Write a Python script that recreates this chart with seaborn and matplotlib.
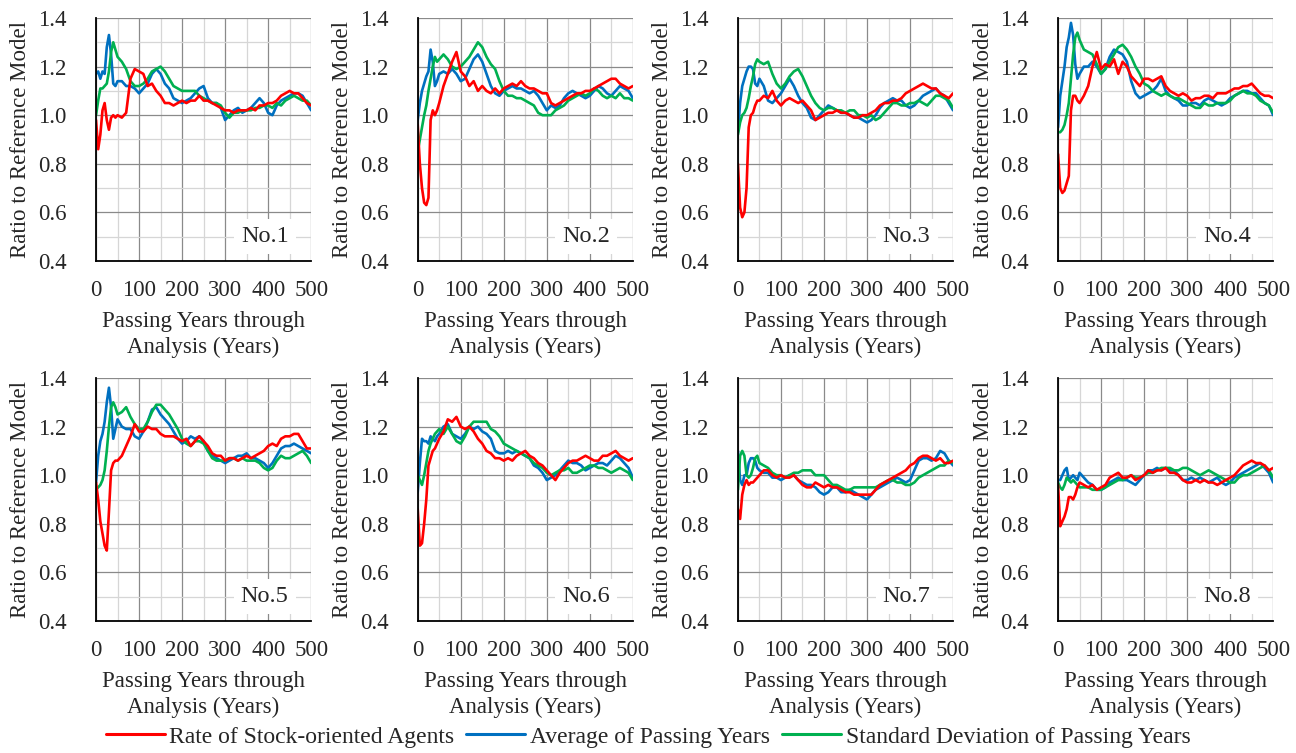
import matplotlib
matplotlib.use("Agg")
import matplotlib.pyplot as plt
from matplotlib.ticker import MultipleLocator, FormatStrFormatter
from matplotlib.lines import Line2D
import numpy as np
import pandas as pd
import seaborn as sns

# x positions (years) - denser at the start where things move fast
years = [0, 5, 10, 15, 20, 25, 30, 35, 40, 45, 50,
         60, 70, 80, 90, 100, 110, 120, 130, 140, 150,
         160, 170, 180, 190, 200, 210, 220, 230, 240, 250,
         260, 270, 280, 290, 300, 310, 320, 330, 340, 350,
         360, 370, 380, 390, 400, 410, 420, 430, 440, 450,
         460, 470, 480, 490, 500]

panel_names = ["No.1", "No.2", "No.3", "No.4", "No.5", "No.6", "No.7", "No.8"]

# Rate of Stock-oriented Agents (red)
rate_no1 = [0.98, 0.86, 0.92, 1.02, 1.05, 0.98, 0.94, 0.99, 1.00, 0.99, 1.00,
            0.99, 1.01, 1.15, 1.19, 1.18, 1.17, 1.12, 1.13, 1.10, 1.08,
            1.05, 1.05, 1.04, 1.05, 1.06, 1.05, 1.06, 1.06, 1.08, 1.06,
            1.06, 1.05, 1.04, 1.03, 1.02, 1.02, 1.01, 1.02, 1.02, 1.02,
            1.03, 1.02, 1.04, 1.04, 1.05, 1.05, 1.06, 1.08, 1.09, 1.10,
            1.09, 1.09, 1.07, 1.05, 1.04]
rate_no2 = [0.96, 0.80, 0.70, 0.64, 0.63, 0.66, 0.98, 1.02, 1.00, 1.02, 1.05,
            1.12, 1.17, 1.22, 1.26, 1.18, 1.16, 1.12, 1.14, 1.10, 1.12,
            1.10, 1.09, 1.11, 1.09, 1.11, 1.12, 1.13, 1.12, 1.14, 1.12,
            1.11, 1.11, 1.10, 1.09, 1.09, 1.05, 1.04, 1.05, 1.06, 1.07,
            1.08, 1.09, 1.09, 1.10, 1.10, 1.11, 1.12, 1.13, 1.14, 1.15,
            1.15, 1.13, 1.12, 1.11, 1.12]
rate_no3 = [0.80, 0.62, 0.58, 0.60, 0.70, 0.95, 1.00, 1.01, 1.04, 1.06, 1.06,
            1.08, 1.07, 1.10, 1.06, 1.04, 1.06, 1.07, 1.06, 1.05, 1.06,
            1.04, 1.02, 0.98, 0.99, 1.00, 1.01, 1.01, 1.02, 1.01, 1.01,
            1.00, 0.99, 0.99, 1.00, 1.00, 1.01, 1.02, 1.04, 1.05, 1.05,
            1.06, 1.06, 1.07, 1.09, 1.10, 1.11, 1.12, 1.13, 1.12, 1.11,
            1.11, 1.09, 1.08, 1.07, 1.09]
rate_no4 = [0.84, 0.70, 0.68, 0.69, 0.72, 0.75, 1.02, 1.08, 1.08, 1.06, 1.05,
            1.08, 1.12, 1.20, 1.26, 1.19, 1.21, 1.20, 1.23, 1.17, 1.22,
            1.20, 1.16, 1.14, 1.12, 1.15, 1.15, 1.14, 1.15, 1.16, 1.12,
            1.10, 1.09, 1.08, 1.09, 1.08, 1.06, 1.07, 1.07, 1.08, 1.08,
            1.07, 1.09, 1.09, 1.09, 1.10, 1.11, 1.11, 1.12, 1.12, 1.13,
            1.11, 1.09, 1.08, 1.08, 1.07]
rate_no5 = [0.97, 0.90, 0.81, 0.76, 0.71, 0.69, 0.85, 1.02, 1.05, 1.06, 1.06,
            1.08, 1.12, 1.16, 1.21, 1.18, 1.18, 1.20, 1.19, 1.19, 1.17,
            1.16, 1.16, 1.16, 1.15, 1.14, 1.15, 1.12, 1.14, 1.16, 1.14,
            1.12, 1.09, 1.08, 1.08, 1.06, 1.07, 1.07, 1.06, 1.07, 1.08,
            1.07, 1.08, 1.09, 1.10, 1.12, 1.13, 1.12, 1.15, 1.16, 1.16,
            1.17, 1.17, 1.14, 1.11, 1.11]
rate_no6 = [0.86, 0.71, 0.72, 0.80, 0.90, 1.04, 1.07, 1.10, 1.11, 1.13, 1.15,
            1.18, 1.23, 1.22, 1.24, 1.20, 1.19, 1.20, 1.18, 1.15, 1.13,
            1.10, 1.09, 1.07, 1.07, 1.06, 1.07, 1.06, 1.08, 1.09, 1.10,
            1.08, 1.07, 1.05, 1.04, 1.02, 1.00, 0.98, 1.01, 1.03, 1.05,
            1.06, 1.06, 1.07, 1.08, 1.07, 1.06, 1.06, 1.08, 1.08, 1.09,
            1.10, 1.08, 1.07, 1.06, 1.07]
rate_no7 = [0.86, 0.82, 0.92, 0.96, 0.98, 0.96, 0.97, 0.97, 0.98, 0.99, 1.00,
            1.02, 1.02, 1.00, 0.99, 1.00, 0.99, 0.99, 1.00, 0.98, 0.96,
            0.95, 0.95, 0.97, 0.96, 0.95, 0.96, 0.95, 0.95, 0.94, 0.93,
            0.93, 0.92, 0.92, 0.92, 0.92, 0.92, 0.94, 0.96, 0.97, 0.98,
            0.99, 1.00, 1.01, 1.02, 1.04, 1.05, 1.07, 1.08, 1.08, 1.07,
            1.06, 1.07, 1.05, 1.05, 1.06]
rate_no8 = [0.96, 0.79, 0.81, 0.83, 0.86, 0.91, 0.91, 0.90, 0.92, 0.95, 0.97,
            0.96, 0.95, 0.96, 0.94, 0.95, 0.96, 0.99, 1.00, 1.01, 0.99,
            0.99, 1.00, 0.98, 0.99, 1.00, 1.02, 1.01, 1.02, 1.02, 1.03,
            1.01, 1.01, 1.00, 0.98, 0.97, 0.97, 0.98, 0.97, 0.98, 0.97,
            0.97, 0.96, 0.97, 0.98, 0.99, 1.00, 1.02, 1.04, 1.05, 1.06,
            1.05, 1.05, 1.04, 1.02, 1.03]

# Average of Passing Years (blue)
avg_no1 = [1.17, 1.18, 1.15, 1.18, 1.17, 1.28, 1.33, 1.25, 1.13, 1.12, 1.14,
           1.14, 1.12, 1.12, 1.11, 1.09, 1.11, 1.13, 1.17, 1.19, 1.17,
           1.13, 1.11, 1.07, 1.06, 1.05, 1.06, 1.07, 1.09, 1.11, 1.12,
           1.07, 1.05, 1.05, 1.03, 0.98, 1.00, 1.02, 1.03, 1.01, 1.02,
           1.03, 1.05, 1.07, 1.05, 1.01, 1.00, 1.04, 1.06, 1.07, 1.08,
           1.09, 1.09, 1.08, 1.05, 1.02]
avg_no2 = [0.98, 1.05, 1.10, 1.13, 1.16, 1.18, 1.27, 1.22, 1.12, 1.14, 1.17,
           1.18, 1.17, 1.19, 1.17, 1.14, 1.15, 1.19, 1.23, 1.25, 1.22,
           1.17, 1.12, 1.09, 1.08, 1.10, 1.11, 1.12, 1.11, 1.11, 1.10,
           1.09, 1.10, 1.08, 1.05, 1.02, 1.04, 1.03, 1.04, 1.07, 1.09,
           1.10, 1.09, 1.08, 1.07, 1.08, 1.10, 1.12, 1.11, 1.09, 1.08,
           1.10, 1.12, 1.11, 1.10, 1.07]
avg_no3 = [0.93, 1.05, 1.12, 1.15, 1.18, 1.20, 1.20, 1.19, 1.13, 1.12, 1.15,
           1.12, 1.06, 1.05, 1.07, 1.09, 1.12, 1.15, 1.12, 1.08, 1.05,
           1.03, 0.99, 0.98, 1.00, 1.02, 1.04, 1.03, 1.02, 1.01, 1.01,
           1.00, 0.99, 0.99, 0.98, 0.97, 0.98, 1.00, 1.03, 1.05, 1.06,
           1.07, 1.06, 1.06, 1.04, 1.03, 1.04, 1.06, 1.08, 1.09, 1.10,
           1.11, 1.09, 1.08, 1.05, 1.02]
avg_no4 = [0.95, 1.08, 1.14, 1.20, 1.28, 1.32, 1.38, 1.33, 1.21, 1.15, 1.17,
           1.20, 1.20, 1.22, 1.20, 1.17, 1.19, 1.24, 1.27, 1.26, 1.25,
           1.22, 1.14, 1.09, 1.07, 1.08, 1.09, 1.10, 1.12, 1.15, 1.10,
           1.08, 1.07, 1.06, 1.04, 1.04, 1.05, 1.05, 1.04, 1.06, 1.07,
           1.06, 1.05, 1.04, 1.05, 1.07, 1.08, 1.09, 1.10, 1.10, 1.09,
           1.09, 1.07, 1.05, 1.04, 1.00]
avg_no5 = [0.97, 1.08, 1.14, 1.17, 1.22, 1.30, 1.36, 1.28, 1.15, 1.19, 1.23,
           1.20, 1.19, 1.19, 1.16, 1.15, 1.18, 1.22, 1.27, 1.28, 1.25,
           1.23, 1.21, 1.18, 1.15, 1.13, 1.14, 1.16, 1.15, 1.16, 1.14,
           1.10, 1.08, 1.07, 1.06, 1.05, 1.06, 1.07, 1.08, 1.08, 1.09,
           1.07, 1.07, 1.06, 1.05, 1.03, 1.05, 1.08, 1.11, 1.12, 1.12,
           1.13, 1.12, 1.11, 1.10, 1.09]
avg_no6 = [0.93, 1.05, 1.15, 1.14, 1.14, 1.13, 1.16, 1.15, 1.14, 1.16, 1.17,
           1.20, 1.21, 1.17, 1.16, 1.15, 1.17, 1.20, 1.19, 1.20, 1.18,
           1.17, 1.15, 1.10, 1.09, 1.09, 1.10, 1.09, 1.10, 1.09, 1.08,
           1.07, 1.04, 1.03, 1.01, 0.98, 0.99, 1.00, 1.02, 1.04, 1.06,
           1.05, 1.05, 1.04, 1.02, 1.03, 1.04, 1.05, 1.05, 1.04, 1.06,
           1.08, 1.07, 1.05, 1.03, 0.99]
avg_no7 = [1.10, 0.98, 0.96, 1.00, 1.00, 1.05, 1.07, 1.07, 1.06, 1.03, 1.02,
           1.01, 1.01, 0.99, 0.99, 0.98, 0.99, 1.00, 1.00, 0.98, 0.97,
           0.96, 0.96, 0.95, 0.93, 0.92, 0.93, 0.95, 0.95, 0.93, 0.93,
           0.94, 0.93, 0.92, 0.91, 0.90, 0.92, 0.94, 0.95, 0.96, 0.97,
           0.98, 0.99, 0.98, 0.97, 0.98, 1.02, 1.06, 1.07, 1.07, 1.06,
           1.07, 1.10, 1.09, 1.06, 1.04]
avg_no8 = [0.98, 0.98, 1.00, 1.02, 1.03, 0.98, 0.99, 1.00, 0.99, 0.98, 1.01,
           0.99, 0.97, 0.96, 0.94, 0.94, 0.95, 0.97, 0.98, 0.99, 0.98,
           0.98, 0.97, 0.96, 0.98, 1.00, 1.02, 1.02, 1.03, 1.02, 1.03,
           1.02, 1.02, 1.00, 0.98, 0.98, 0.99, 0.98, 0.99, 0.98, 0.97,
           0.98, 0.99, 0.97, 0.96, 0.97, 0.99, 1.00, 1.01, 1.02, 1.03,
           1.04, 1.05, 1.03, 1.01, 0.97]

# Standard Deviation of Passing Years (green)
std_no1 = [1.00, 1.06, 1.11, 1.11, 1.12, 1.13, 1.18, 1.26, 1.30, 1.27, 1.24,
           1.22, 1.19, 1.14, 1.12, 1.12, 1.13, 1.15, 1.18, 1.19, 1.20,
           1.18, 1.15, 1.12, 1.11, 1.10, 1.10, 1.10, 1.10, 1.08, 1.07,
           1.06, 1.05, 1.05, 1.04, 1.01, 0.99, 1.01, 1.01, 1.02, 1.02,
           1.02, 1.03, 1.03, 1.04, 1.04, 1.03, 1.05, 1.04, 1.06, 1.07,
           1.08, 1.07, 1.06, 1.06, 1.04]
std_no2 = [0.85, 0.90, 0.95, 1.00, 1.04, 1.10, 1.15, 1.20, 1.24, 1.22, 1.23,
           1.25, 1.23, 1.20, 1.19, 1.20, 1.22, 1.24, 1.27, 1.30, 1.28,
           1.24, 1.21, 1.19, 1.14, 1.10, 1.08, 1.08, 1.07, 1.07, 1.06,
           1.05, 1.04, 1.01, 1.00, 1.00, 1.00, 1.02, 1.03, 1.04, 1.06,
           1.07, 1.08, 1.09, 1.08, 1.09, 1.11, 1.10, 1.08, 1.07, 1.08,
           1.07, 1.09, 1.07, 1.07, 1.06]
std_no3 = [0.92, 0.97, 1.00, 1.01, 1.03, 1.07, 1.12, 1.16, 1.21, 1.23, 1.22,
           1.21, 1.22, 1.17, 1.13, 1.11, 1.13, 1.16, 1.18, 1.19, 1.16,
           1.12, 1.08, 1.05, 1.03, 1.02, 1.03, 1.03, 1.02, 1.02, 1.01,
           1.02, 1.02, 1.00, 1.00, 0.99, 1.00, 0.98, 0.99, 1.01, 1.03,
           1.05, 1.05, 1.04, 1.04, 1.05, 1.05, 1.06, 1.05, 1.04, 1.06,
           1.08, 1.08, 1.07, 1.06, 1.03]
std_no4 = [0.93, 0.93, 0.94, 0.96, 1.00, 1.05, 1.15, 1.25, 1.32, 1.34, 1.31,
           1.27, 1.26, 1.25, 1.21, 1.17, 1.19, 1.22, 1.25, 1.28, 1.29,
           1.27, 1.24, 1.20, 1.17, 1.13, 1.12, 1.10, 1.09, 1.08, 1.09,
           1.08, 1.07, 1.07, 1.06, 1.05, 1.04, 1.03, 1.03, 1.05, 1.04,
           1.04, 1.05, 1.05, 1.05, 1.06, 1.08, 1.09, 1.10, 1.09, 1.09,
           1.08, 1.06, 1.05, 1.04, 1.01]
std_no5 = [0.94, 0.95, 0.96, 0.98, 1.02, 1.10, 1.20, 1.28, 1.30, 1.28, 1.25,
           1.26, 1.28, 1.24, 1.21, 1.19, 1.19, 1.22, 1.26, 1.29, 1.29,
           1.27, 1.25, 1.22, 1.19, 1.15, 1.13, 1.12, 1.14, 1.14, 1.13,
           1.10, 1.07, 1.06, 1.06, 1.06, 1.07, 1.07, 1.06, 1.07, 1.06,
           1.06, 1.06, 1.05, 1.03, 1.02, 1.03, 1.06, 1.08, 1.07, 1.07,
           1.08, 1.09, 1.10, 1.08, 1.05]
std_no6 = [1.00, 0.98, 0.96, 1.00, 1.05, 1.10, 1.13, 1.15, 1.17, 1.18, 1.19,
           1.17, 1.20, 1.17, 1.14, 1.13, 1.16, 1.20, 1.22, 1.22, 1.22,
           1.22, 1.19, 1.18, 1.16, 1.13, 1.12, 1.11, 1.10, 1.09, 1.08,
           1.07, 1.05, 1.04, 1.03, 1.01, 1.00, 1.01, 1.02, 1.02, 1.03,
           1.01, 1.01, 1.02, 1.03, 1.04, 1.04, 1.03, 1.03, 1.02, 1.01,
           1.02, 1.03, 1.02, 1.01, 0.98]
std_no7 = [0.94, 1.08, 1.10, 1.08, 1.00, 0.99, 1.00, 1.03, 1.07, 1.08, 1.05,
           1.04, 1.03, 1.01, 1.00, 1.00, 0.99, 1.00, 1.01, 1.01, 1.02,
           1.02, 1.02, 1.00, 1.00, 1.00, 0.98, 0.96, 0.96, 0.95, 0.94,
           0.94, 0.95, 0.95, 0.95, 0.95, 0.95, 0.95, 0.96, 0.97, 0.98,
           0.98, 0.97, 0.97, 0.96, 0.96, 0.97, 0.99, 1.00, 1.01, 1.02,
           1.03, 1.04, 1.04, 1.06, 1.05]
std_no8 = [0.97, 0.95, 0.94, 0.96, 0.99, 0.98, 0.97, 0.98, 0.97, 0.96, 0.95,
           0.95, 0.95, 0.94, 0.94, 0.94, 0.95, 0.96, 0.97, 0.98, 0.98,
           0.99, 1.00, 0.99, 0.99, 1.00, 1.01, 1.01, 1.02, 1.03, 1.03,
           1.03, 1.02, 1.02, 1.03, 1.03, 1.02, 1.01, 1.00, 1.01, 1.02,
           1.01, 1.00, 0.99, 0.98, 0.97, 0.97, 0.99, 1.00, 1.00, 1.01,
           1.02, 1.03, 1.04, 1.02, 0.99]

rate_all = [rate_no1, rate_no2, rate_no3, rate_no4, rate_no5, rate_no6, rate_no7, rate_no8]
avg_all = [avg_no1, avg_no2, avg_no3, avg_no4, avg_no5, avg_no6, avg_no7, avg_no8]
std_all = [std_no1, std_no2, std_no3, std_no4, std_no5, std_no6, std_no7, std_no8]

series_labels = ["Rate of Stock-oriented Agents", "Average of Passing Years",
                 "Standard Deviation of Passing Years"]
RED, BLUE, GREEN = "#FF0000", "#0070C0", "#00B050"

sns.set_theme(style="white")
plt.rcParams['font.family'] = ['Liberation Serif', 'DejaVu Serif']
plt.rcParams['font.size'] = 16.5

fig = plt.figure(figsize=(12.96, 7.53), dpi=100)

lefts = [0.0741, 0.3223, 0.5694, 0.8164]
bottoms = [0.6534, 0.1753]
w, h = 0.166, 0.3227

for i in range(8):
    ax = fig.add_axes([lefts[i % 4], bottoms[i // 4], w, h])
    df = pd.DataFrame({"year": years, "rate": rate_all[i],
                       "avg": avg_all[i], "std": std_all[i]})

    # blue and green below, red on top
    sns.lineplot(data=df, x="year", y="avg", ax=ax, color=BLUE, linewidth=1.9)
    sns.lineplot(data=df, x="year", y="std", ax=ax, color=GREEN, linewidth=1.9)
    sns.lineplot(data=df, x="year", y="rate", ax=ax, color=RED, linewidth=1.9)

    ax.set_xlim(0, 500)
    ax.set_ylim(0.4, 1.4)
    ax.xaxis.set_major_locator(MultipleLocator(100))
    ax.xaxis.set_minor_locator(MultipleLocator(50))
    ax.yaxis.set_major_locator(MultipleLocator(0.2))
    ax.yaxis.set_minor_locator(MultipleLocator(0.1))
    ax.yaxis.set_major_formatter(FormatStrFormatter('%.1f'))

    ax.set_axisbelow(True)
    ax.grid(which='major', color='#8a8a8a', linewidth=0.9)
    ax.grid(which='minor', color='#d6d6d6', linewidth=0.9)

    for s in ['top', 'right']:
        ax.spines[s].set_visible(False)
    for s in ['left', 'bottom']:
        ax.spines[s].set_color('black')
        ax.spines[s].set_linewidth(1.3)

    ax.tick_params(axis='x', which='major', direction='inout', length=10,
                   width=1.2, color='black', labelsize=16.5, pad=9)
    ax.tick_params(axis='y', which='major', direction='inout', length=14,
                   width=1.2, color='black', labelsize=16.5, pad=14)
    ax.tick_params(which='minor', length=0)

    ax.set_xlabel("Passing Years through\nAnalysis (Years)", fontsize=16.5,
                  linespacing=1.33, va='top')
    ax.xaxis.set_label_coords(0.5, -0.205)
    ax.set_ylabel("Ratio to Reference Model", fontsize=16.5)
    ax.yaxis.set_label_coords(-0.30, 0.5)

    ax.text(392, 0.5, panel_names[i], ha='center', va='center', fontsize=17.5,
            zorder=4, bbox=dict(facecolor='white', edgecolor='none', pad=5))

handles = [Line2D([0], [0], color=RED, lw=2.2),
           Line2D([0], [0], color=BLUE, lw=2.2),
           Line2D([0], [0], color=GREEN, lw=2.2)]
fig.legend(handles, series_labels, loc='lower center', bbox_to_anchor=(0.5, -0.021),
           ncol=3, frameon=False, fontsize=17, handlelength=2.5,
           handletextpad=0.2, columnspacing=0.5)

fig.savefig("out.png", dpi=100)
